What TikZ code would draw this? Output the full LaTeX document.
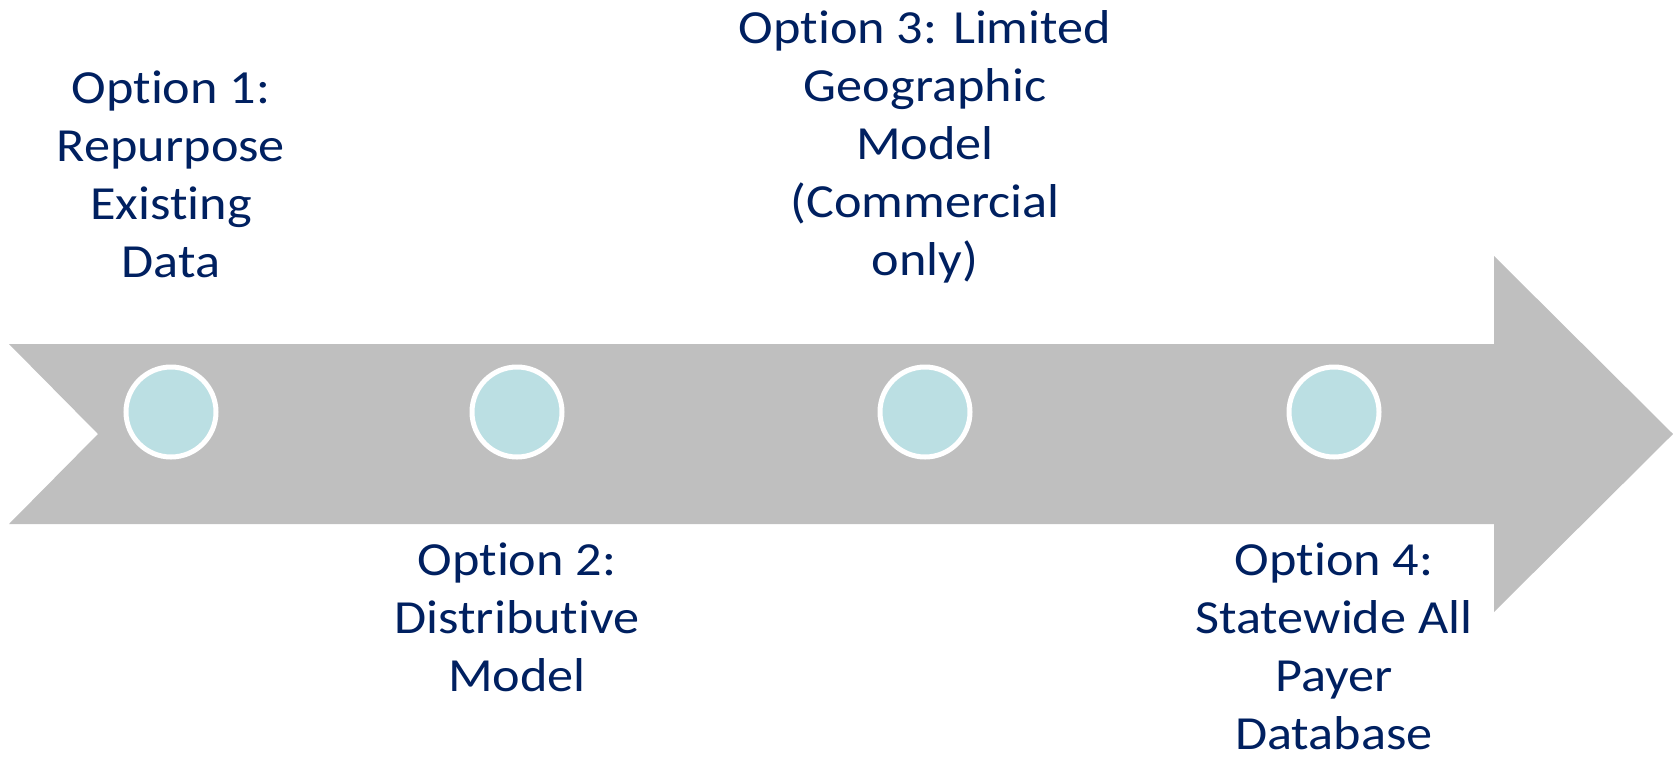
\documentclass[tikz,border=0pt]{standalone}
\usepackage{fontspec}
\setmainfont{Carlito}[FakeStretch=1.1, RawFeature={-liga;-clig;-dlig}]
\definecolor{arrowgray}{HTML}{BFBFBF}
\definecolor{dotfill}{HTML}{BBDFE3}
\definecolor{navy}{HTML}{002060}
\tikzset{
  dot/.style={circle, fill=dotfill, draw=white, line width=5pt, minimum size=90pt, inner sep=0pt},
  label/.style={anchor=north, inner sep=0pt, align=center, text=navy,
    font=\fontsize{47.5}{58}\selectfont}
}
\newcommand{\firstline}{\rule{0pt}{40pt}}
\begin{document}
\begin{tikzpicture}[x=1pt,y=-1pt]
\useasboundingbox (0,0) rectangle (1673,756);
\fill[arrowgray] (9,344) -- (1494,344) -- (1494,256) -- (1673,434) -- (1494,612)
  -- (1494,524) -- (9,524) -- (98,434) -- cycle;
\node[dot] (c1) at (171,412) {};
\node[dot] (c2) at (517,412) {};
\node[dot] (c3) at (925,412) {};
\node[dot] (c4) at (1334,412) {};
\node[label] (t1) at (171,63) {\firstline Option 1:\\Repurpose\\Existing\\Data};
\node[label] (t2) at (517,535) {\firstline Option 2:\\Distributive\\Model};
\node[label] (t3) at (925,3) {\firstline Option 3: Limited\\Geographic\\Model\\(Commercial\\only)};
\node[label] (t4) at (1334,535) {\firstline Option 4:\\Statewide All\\Payer\\Database};
\end{tikzpicture}
\end{document}
